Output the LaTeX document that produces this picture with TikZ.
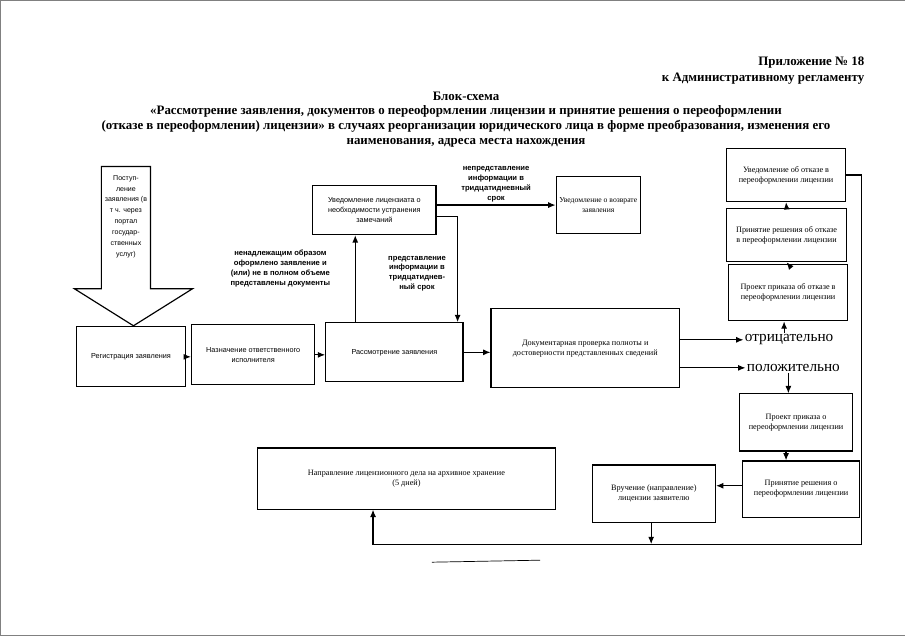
\documentclass[tikz,border=0pt]{standalone}
\usepackage{fontspec}
\setmainfont{Liberation Serif}
\setsansfont{Liberation Sans}
\usetikzlibrary{arrows.meta, positioning}

\begin{document}
\begin{tikzpicture}[x=0.3mm, y=-0.3mm,
  every node/.style={align=center, inner sep=1pt, font=\fontsize{7}{8.5}\selectfont},
  box/.style={draw, line width=1pt},
  sbox/.style={box, font=\sffamily\fontsize{6.2}{8.5}\selectfont},
  sz/.style 2 args={minimum width=#1*0.3mm, minimum height=#2*0.3mm},
  lbl/.style={font=\sffamily\bfseries\fontsize{6.5}{8.5}\selectfont},
  head/.style={font=\bfseries\fontsize{11}{12.5}\selectfont},
  res/.style={font=\fontsize{13}{15}\selectfont},
  arr/.style={line width=1pt, -{Latex[length=2.2mm,width=1.8mm]}}
]
  % page frame
  \draw[gray, line width=0.4pt] (905,2) -- (2,2) -- (2,636) -- (905,636);

  % header
  \node[head, anchor=east] (pril) at (866,64) {Приложение № 18};
  \node[head, anchor=east] (regl) at (866,80) {к Административному регламенту};
  \node[head] (title) at (467,121) {Блок-схема\\
    «Рассмотрение заявления, документов о переоформлении лицензии и принятие решения о переоформлении\\
    (отказе в переоформлении) лицензии» в случаях реорганизации юридического лица в форме преобразования, изменения его\\
    наименования, адреса места нахождения};

  % incoming arrow
  \draw[line width=1pt] (103,168) -- (152,168) -- (152,290) -- (194,290) -- (135,327)
    -- (76,290) -- (103,290) -- cycle;
  \node[font=\sffamily\fontsize{6}{9.3}\selectfont] (post) at (127.5,218)
    {Поступ-\\ление\\заявления (в\\т ч. через\\портал\\государ-\\ственных\\услуг)};

  % main row
  \node[sbox, sz={109}{60}] (reg) at (132.5,358) {Регистрация заявления};
  \node[sbox, sz={123}{60}] (naz) at (254.5,356) {Назначение ответственного\\исполнителя};
  \node[sbox, sz={137}{59}] (ras) at (395.5,353.5) {Рассмотрение заявления};
  \node[box, sz={188}{79}] (prov) at (586,349.5)
    {Документарная проверка полноты и\\достоверности представленных сведений};

  % notice boxes
  \node[sbox, sz={123}{49}] (uvl) at (375.5,211.5)
    {Уведомление лицензиата о\\необходимости устранения\\замечаний};
  \node[box, sz={84}{57}, font=\fontsize{6.5}{8.5}\selectfont] (vozv) at (599,206.5)
    {Уведомление о возврате\\заявления};

  % results
  \node[res, anchor=west] (otr) at (744,341) {отрицательно};
  \node[res, anchor=west] (pol) at (746,369) {положительно};

  % refusal column
  \node[box, sz={119}{56}] (protk) at (788.5,294) {Проект приказа об отказе в\\переоформлении лицензии};
  \node[box, sz={120}{53}] (prinotk) at (787,236.5) {Принятие решения об отказе\\в  переоформлении лицензии};
  \node[box, sz={119}{53}] (uvotk) at (786.5,176.5) {Уведомление об отказе в\\переоформлении лицензии};

  % positive column
  \node[box, sz={113}{57}] (propr) at (796.5,423.5) {Проект приказа о\\переоформлении лицензии};
  \node[box, sz={117}{56}] (prinpr) at (801.5,490) {Принятие решения о\\переоформлении лицензии};
  \node[box, sz={123}{57}] (vruch) at (654.5,494.5) {Вручение (направление)\\лицензии заявителю};
  \node[box, sz={297}{61}] (arch) at (407.5,479.5)
    {Направление лицензионного дела на архивное хранение\\(5 дней)};

  % connectors
  \draw[arr] (reg.east) -- (reg.east -| naz.west);
  \draw[arr] (naz.east) -- (naz.east -| ras.west);
  \draw[arr] ([xshift=9mm]ras.north west) -- ([xshift=9mm]ras.north west |- uvl.south)
    node[lbl, pos=0.62, left=7mm] (nenad) {ненадлежащим образом\\оформлено заявление и\\(или)  не в полном объеме\\представлены документы};
  \draw[arr] ([yshift=-2mm]uvl.east) -| ([xshift=-1.8mm]ras.north east)
    node[lbl, pos=0.77, left=3mm] (pred) {представление\\информации в\\тридцатиднев-\\ный срок};
  \draw[arr] ([yshift=1.5mm]uvl.east) -- ([yshift=1.5mm]uvl.east -| vozv.west)
    node[lbl, midway, above=1pt] (nepred) {непредставление\\информации в\\тридцатидневный\\срок};
  \draw[arr] (ras.east) -- (ras.east -| prov.west);
  \draw[arr] (prov.east |- otr.west) -- (otr.west);
  \draw[arr] (prov.east |- pol.west) -- (pol.west);
  \draw[arr] ([xshift=-1.5mm]otr.north) -- ([xshift=-1.5mm]otr.north |- protk.south);
  \draw[arr] (protk.north) -- (prinotk.south);
  \draw[arr] (prinotk.north) -- (uvotk.south);
  \draw[arr] ([xshift=-1.5mm]pol.south) -- ([xshift=-1.5mm]pol.south |- propr.north);
  \draw[arr] ([xshift=-3mm]propr.south) -- ([xshift=-3mm]propr.south |- prinpr.north);
  \draw[arr] ([yshift=1mm]prinpr.west) -- ([yshift=1mm]prinpr.west -| vruch.east);

  % return line
  \coordinate (rb) at (862,545);
  \draw[arr] (uvotk.east) -| (rb) -| ([xshift=-10mm]arch.south);
  \draw[arr] ([xshift=-0.8mm]vruch.south) -- ([xshift=-0.8mm]vruch.south |- rb);

  % bottom rule
  \draw[line width=0.6pt] (433,563) -- (541,561);
\end{tikzpicture}
\end{document}
